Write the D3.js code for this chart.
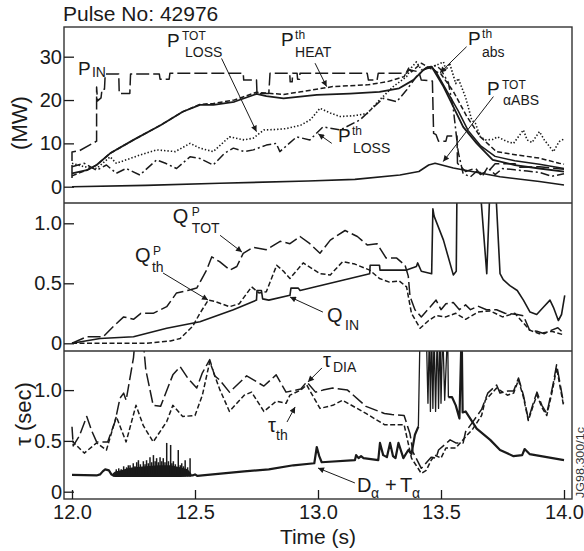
<!DOCTYPE html>
<html><head><meta charset="utf-8">
<script src="https://cdn.jsdelivr.net/npm/d3@7"></script>
<style>body{margin:0;background:#fff}</style>
</head><body><svg id="c" width="584" height="551"></svg>
<script>
// ---------------- DATA ----------------
const xTicks = [12.0, 12.5, 13.0, 13.5, 14.0];
const topTicks = [0, 10, 20, 30];
const midTicks = [0, 0.5, 1.0];
const botTicks = [0, 0.5, 1.0];

// Top panel (MW)
const pIn = [[12.0,2.0],[12.0,8.0],[12.03,8.3],[12.1,10.5],[12.1,23.0],[12.104,19.8],[12.118,20.5],[12.122,22.5],[12.132,22.5],[12.135,26.0],[12.19,26.0],[12.192,21.5],[12.235,21.5],[12.238,26.0],[12.355,26.0],[12.358,24.8],[12.395,24.8],[12.398,26.2],[12.696,26.2],[12.698,24.6],[12.75,24.6],[12.752,21.5],[12.80,21.5],[12.805,26.2],[12.885,26.2],[12.887,24.2],[12.895,24.2],[12.897,26.2],[12.915,26.2],[12.917,24.8],[12.925,24.8],[12.927,26.2],[13.2,26.2],[13.205,24.6],[13.24,24.6],[13.245,26.2],[13.36,26.2],[13.37,27.0],[13.41,26.5],[13.42,24.6],[13.465,24.4],[13.47,12.3],[13.48,12.0],[13.49,10.5],[13.52,10.5],[13.525,11.7],[13.565,11.7],[13.567,5.4],[13.6,3.5],[13.64,4.3],[13.66,2.8],[13.7,4.0],[13.72,5.3],[13.8,5.3],[13.82,4.5],[13.9,4.6],[13.95,4.3],[14.0,4.0]];
const pHeat = [[12.0,2.5],[12.03,3.2],[12.06,3.8],[12.1,5.0],[12.155,7.7],[12.25,10.8],[12.36,14.2],[12.45,17.3],[12.52,19.0],[12.575,19.2],[12.66,20.0],[12.75,21.8],[12.79,21.6],[12.86,21.3],[12.93,21.9],[13.06,23.1],[13.2,23.5],[13.28,24.2],[13.35,25.4],[13.37,27.5],[13.38,26.5],[13.40,27.5],[13.42,28.5],[13.46,27.2],[13.5,26.0],[13.55,22.0],[13.605,16.2],[13.66,11.5],[13.725,8.1],[13.81,7.3],[13.9,6.6],[13.98,5.4],[14.0,5.2]];
const pAbs = [[12.0,3.1],[12.06,3.8],[12.1,5.0],[12.155,7.7],[12.25,10.8],[12.36,14.2],[12.45,17.3],[12.52,18.9],[12.575,18.9],[12.66,19.6],[12.75,21.4],[12.79,20.9],[12.86,20.4],[12.995,21.2],[13.13,21.5],[13.25,21.9],[13.33,22.7],[13.387,24.6],[13.43,27.0],[13.462,27.7],[13.51,23.1],[13.55,18.5],[13.59,13.8],[13.645,10.0],[13.71,6.2],[13.8,5.0],[13.9,4.2],[14.0,3.5]];
const pAbs2 = [[13.462,27.7],[13.48,26.5],[13.53,21.5],[13.57,17.5],[13.61,13.0],[13.66,9.5],[13.72,7.0],[13.8,6.0],[13.9,5.2],[14.0,4.2]];
const pLossTot = [[12.0,5.4],[12.05,4.6],[12.1,4.2],[12.155,6.9],[12.18,5.4],[12.2,5.8],[12.276,7.3],[12.344,8.5],[12.42,8.1],[12.48,10.0],[12.52,8.9],[12.574,8.1],[12.64,11.5],[12.7,10.8],[12.737,11.2],[12.78,13.1],[12.83,13.2],[12.87,13.4],[12.93,14.2],[12.97,15.5],[13.008,18.1],[13.05,17.0],[13.09,16.2],[13.15,16.4],[13.2,16.9],[13.25,20.0],[13.306,23.1],[13.36,25.4],[13.38,27.5],[13.40,28.8],[13.42,27.0],[13.46,27.5],[13.51,28.8],[13.52,26.9],[13.535,28.5],[13.56,23.8],[13.57,25.0],[13.6,20.6],[13.625,15.4],[13.64,14.6],[13.66,11.5],[13.68,10.8],[13.71,10.9],[13.73,11.5],[13.765,10.5],[13.795,10.0],[13.835,13.1],[13.85,10.8],[13.87,10.2],[13.9,12.7],[13.92,10.8],[13.957,8.1],[13.98,10.4],[14.0,11.0]];
const pLossTh = [[12.0,4.6],[12.05,5.4],[12.1,3.8],[12.14,5.0],[12.18,3.1],[12.22,4.2],[12.276,2.7],[12.344,6.2],[12.38,5.4],[12.425,4.2],[12.48,6.9],[12.52,6.5],[12.574,5.0],[12.62,7.7],[12.656,8.9],[12.7,8.1],[12.737,8.5],[12.79,9.6],[12.83,10.0],[12.845,8.1],[12.913,11.5],[12.967,10.8],[13.02,13.8],[13.09,13.1],[13.17,15.4],[13.265,20.4],[13.32,19.6],[13.36,22.3],[13.4,25.4],[13.44,27.5],[13.48,28.0],[13.5,27.0],[13.53,24.0],[13.55,18.0],[13.57,8.0],[13.59,3.0],[13.62,2.3],[13.65,3.8],[13.67,2.6],[13.69,4.5],[13.72,2.8],[13.75,4.2],[13.8,3.9],[13.85,3.6],[13.9,3.3],[13.95,2.4],[14.0,3.0]];
const pAlpha = [[12.0,0.0],[12.3,0.3],[12.6,0.8],[12.96,1.3],[13.15,1.7],[13.333,2.7],[13.41,3.5],[13.45,5.0],[13.476,5.4],[13.55,4.3],[13.74,2.3],[13.9,1.2],[14.0,0.4]];

// Middle panel (Q)
const qTot = [[12.0,0.0],[12.06,0.055],[12.127,0.055],[12.168,0.14],[12.21,0.22],[12.25,0.2],[12.28,0.25],[12.33,0.25],[12.385,0.305],[12.425,0.42],[12.47,0.44],[12.507,0.46],[12.547,0.61],[12.568,0.72],[12.6,0.68],[12.642,0.61],[12.67,0.64],[12.696,0.75],[12.737,0.8],[12.79,0.78],[12.846,0.85],[12.886,0.83],[12.927,0.89],[12.967,0.83],[13.008,0.75],[13.05,0.86],[13.11,0.94],[13.16,0.89],[13.2,0.82],[13.24,0.83],[13.277,0.71],[13.32,0.71],[13.354,0.65],[13.367,0.56],[13.374,0.39],[13.394,0.28],[13.42,0.22],[13.455,0.3],[13.48,0.36],[13.5,0.28],[13.52,0.33],[13.55,0.34],[13.575,0.28],[13.6,0.32],[13.62,0.28],[13.65,0.31],[13.685,0.28],[13.726,0.28],[13.76,0.25],[13.81,0.24],[13.835,0.23],[13.86,0.11],[13.89,0.1],[13.92,0.08],[13.95,0.11],[13.975,0.13],[14.0,0.08]];
const qTh = [[12.0,0.0],[12.3,0.0],[12.4,0.02],[12.44,0.04],[12.49,0.14],[12.52,0.25],[12.554,0.36],[12.58,0.35],[12.64,0.305],[12.68,0.33],[12.73,0.47],[12.76,0.42],[12.79,0.43],[12.832,0.65],[12.86,0.6],[12.886,0.54],[12.94,0.67],[13.008,0.58],[13.05,0.57],[13.1,0.68],[13.15,0.66],[13.21,0.61],[13.25,0.54],[13.29,0.51],[13.33,0.52],[13.36,0.47],[13.38,0.25],[13.415,0.125],[13.45,0.19],[13.48,0.23],[13.52,0.22],[13.56,0.25],[13.6,0.2],[13.65,0.26],[13.7,0.27],[13.75,0.22],[13.8,0.25],[13.835,0.17],[13.86,0.11],[13.9,0.08],[13.95,0.1],[14.0,0.07]];
const qIn = [[12.0,0.0],[12.114,0.04],[12.25,0.055],[12.385,0.125],[12.52,0.18],[12.656,0.28],[12.75,0.36],[12.752,0.44],[12.77,0.44],[12.775,0.37],[12.80,0.36],[12.886,0.40],[12.89,0.46],[12.92,0.46],[12.927,0.44],[13.21,0.58],[13.212,0.65],[13.25,0.65],[13.252,0.61],[13.36,0.61],[13.40,0.64],[13.405,0.67],[13.42,0.6],[13.462,0.58],[13.467,1.12],[13.472,1.06],[13.51,0.86],[13.55,0.57],[13.562,0.6],[13.565,1.3],[13.659,1.3],[13.686,0.58],[13.699,1.3],[13.722,1.3],[13.74,0.58],[13.753,0.53],[13.78,0.48],[13.81,0.44],[13.835,0.36],[13.862,0.26],[13.889,0.24],[13.916,0.3],[13.943,0.36],[13.957,0.3],[13.977,0.19],[13.99,0.24],[14.003,0.4]];

// Bottom panel (tau, sec)
const tauDia = [[12.0,0.64],[12.005,0.45],[12.03,0.55],[12.06,0.74],[12.08,0.6],[12.1,0.49],[12.145,0.49],[12.175,0.69],[12.195,0.92],[12.21,0.97],[12.22,0.9],[12.25,1.32],[12.26,1.6],[12.285,1.6],[12.3,1.2],[12.33,0.85],[12.36,0.84],[12.41,1.15],[12.44,1.23],[12.47,1.12],[12.507,1.02],[12.53,1.17],[12.56,1.30],[12.58,1.14],[12.6,1.1],[12.64,0.98],[12.71,1.14],[12.78,1.04],[12.83,1.15],[12.87,0.98],[12.93,1.01],[12.954,1.08],[12.99,0.98],[13.02,1.0],[13.06,1.02],[13.12,1.0],[13.195,0.84],[13.27,0.77],[13.30,0.76],[13.35,0.75],[13.374,0.57],[13.386,0.39],[13.42,0.23],[13.46,0.34],[13.48,0.33],[13.49,0.41],[13.537,0.51],[13.56,0.48],[13.59,0.48],[13.6,0.59],[13.63,0.69],[13.665,0.81],[13.69,0.97],[13.726,1.05],[13.74,0.97],[13.77,0.99],[13.795,0.99],[13.815,1.12],[13.835,0.95],[13.855,0.71],[13.875,0.87],[13.89,0.98],[13.91,0.85],[13.93,0.77],[13.955,1.05],[13.97,1.25],[13.985,1.05],[13.998,0.87]];
const tauTh = [[12.0,0.5],[12.05,0.38],[12.1,0.48],[12.14,0.41],[12.18,0.74],[12.22,0.49],[12.26,0.85],[12.29,0.65],[12.33,0.49],[12.385,0.69],[12.41,0.85],[12.45,0.74],[12.5,0.75],[12.53,0.95],[12.56,1.28],[12.6,1.01],[12.64,0.79],[12.7,0.95],[12.73,0.98],[12.78,0.79],[12.83,0.89],[12.87,0.87],[12.886,0.95],[12.93,1.0],[12.954,1.05],[13.008,0.82],[13.06,0.85],[13.1,0.9],[13.195,0.77],[13.27,0.66],[13.35,0.66],[13.38,0.33],[13.42,0.18],[13.44,0.21],[13.46,0.31],[13.475,0.36],[13.5,0.33],[13.52,0.43],[13.56,0.43],[13.6,0.54],[13.63,0.62],[13.665,0.75],[13.68,0.9],[13.726,1.02],[13.77,0.95],[13.795,0.97],[13.815,1.1],[13.835,0.93],[13.855,0.7],[13.875,0.85],[13.89,0.95],[13.91,0.83],[13.93,0.75],[13.955,1.02],[13.97,1.22],[13.985,1.02],[13.998,0.85]];
const dAlpha = [[12.0,0.165],[12.1,0.16],[12.114,0.17],[12.125,0.2],[12.135,0.22],[12.15,0.21],[12.16,0.17],[12.17,0.16],[12.49,0.16],[12.5,0.17],[12.51,0.155],[12.53,0.16],[12.7,0.2],[12.8,0.22],[12.9,0.26],[12.985,0.28],[12.995,0.44],[13.005,0.35],[13.015,0.29],[13.15,0.31],[13.155,0.36],[13.165,0.33],[13.175,0.35],[13.185,0.33],[13.245,0.31],[13.252,0.48],[13.265,0.36],[13.28,0.34],[13.293,0.48],[13.305,0.35],[13.315,0.33],[13.327,0.48],[13.347,0.33],[13.367,0.41],[13.38,0.37],[13.394,0.56],[13.408,0.64]];
const dAlphaSpiky = [[13.408,0.64],[13.415,1.6],[13.44,1.6],[13.447,0.87],[13.453,1.6],[13.457,0.79],[13.462,1.6],[13.467,0.82],[13.472,1.6],[13.478,0.79],[13.485,1.6],[13.49,0.82],[13.496,1.6],[13.5,0.87],[13.507,1.6],[13.515,0.9],[13.527,1.6],[13.53,0.93]];
const dAlphaTail = [[13.53,0.93],[13.545,0.93],[13.56,0.85],[13.575,0.72],[13.584,1.6],[13.588,0.78],[13.6,0.79],[13.645,0.62],[13.7,0.51],[13.74,0.41],[13.795,0.35],[13.83,0.36],[13.84,0.42],[13.86,0.37],[13.93,0.34],[14.0,0.31]];
const dBand = [[12.165,0.15,0.18],[12.175,0.145,0.2],[12.2,0.145,0.21],[12.225,0.145,0.23],[12.25,0.145,0.24],[12.3,0.145,0.25],[12.35,0.145,0.26],[12.4,0.145,0.26],[12.44,0.145,0.24],[12.47,0.15,0.22],[12.485,0.15,0.18]];
const dSpikes = [[12.18,0.22],[12.19,0.23],[12.2,0.22],[12.21,0.25],[12.222,0.24],[12.229,0.26],[12.236,0.26],[12.249,0.28],[12.256,0.25],[12.263,0.29],[12.27,0.31],[12.278,0.27],[12.29,0.30],[12.297,0.27],[12.303,0.31],[12.31,0.28],[12.317,0.34],[12.324,0.29],[12.331,0.36],[12.338,0.3],[12.344,0.33],[12.351,0.29],[12.358,0.34],[12.365,0.3],[12.371,0.33],[12.378,0.29],[12.385,0.48],[12.392,0.3],[12.401,0.46],[12.406,0.28],[12.412,0.30],[12.42,0.27],[12.432,0.41],[12.44,0.26],[12.446,0.28],[12.453,0.25],[12.46,0.31],[12.47,0.24],[12.48,0.33]];

// ---------------- LAYOUT ----------------
const FONT = '"Liberation Sans", Arial, Helvetica, sans-serif';
const INK = "#1a1a1a";
const svg = d3.select("#c").attr("font-family", FONT);
const L = 64, R = 572;
const panels = [{top:27,bottom:203},{top:203,bottom:351},{top:351,bottom:499}];
const x = d3.scaleLinear().domain([12,14]).range([72,564]);
const yTop = d3.scaleLinear().domain([0,30]).range([186.7,56.7]);
const yMid = d3.scaleLinear().domain([0,1]).range([343.3,223.3]);
const yBot = d3.scaleLinear().domain([0,1]).range([491.7,390.1]);
const ys = [yTop, yMid, yBot];

const defs = svg.append("defs");
panels.forEach((p,i)=>{
  defs.append("clipPath").attr("id","clip"+i).append("rect")
    .attr("x",L).attr("y",p.top).attr("width",R-L).attr("height",p.bottom-p.top);
});
defs.append("marker").attr("id","arr").attr("viewBox","0 0 10 10").attr("refX",10).attr("refY",5)
  .attr("markerWidth",8).attr("markerHeight",6).attr("markerUnits","userSpaceOnUse").attr("orient","auto")
  .append("path").attr("d","M0,0L10,5L0,10z").attr("fill",INK);

function drawLine(i, data, dash, w){
  const line = d3.line().x(d=>x(d[0])).y(d=>ys[i](d[1]));
  svg.append("path").datum(data).attr("clip-path",`url(#clip${i})`)
    .attr("d",line).attr("fill","none").attr("stroke",INK)
    .attr("stroke-width",w).attr("stroke-dasharray",dash||null)
    .attr("stroke-linejoin","round");
}

const LONG="13,4", SHORT="5,2.5", DOT="1.4,2", DASHDOT="9,3,2,3";
// top
drawLine(0,pAlpha,null,1.6);
drawLine(0,pLossTh,DASHDOT,1.5);
drawLine(0,pLossTot,DOT,1.6);
drawLine(0,pIn,LONG,1.5);
drawLine(0,pHeat,SHORT,1.5);
drawLine(0,pAbs2,null,1.5);
drawLine(0,pAbs,null,1.8);
// middle
drawLine(1,qTot,LONG,1.5);
drawLine(1,qTh,SHORT,1.5);
drawLine(1,qIn,null,1.6);
// bottom
drawLine(2,tauDia,LONG,1.5);
drawLine(2,tauTh,SHORT,1.5);
svg.append("path").datum(dBand).attr("clip-path","url(#clip2)")
  .attr("d",d3.area().x(d=>x(d[0])).y0(d=>yBot(d[1])).y1(d=>yBot(d[2])))
  .attr("fill",INK);
svg.append("g").attr("clip-path","url(#clip2)").selectAll("line").data(dSpikes).join("line")
  .attr("x1",d=>x(d[0])).attr("x2",d=>x(d[0]))
  .attr("y1",yBot(0.15)).attr("y2",d=>yBot(d[1]))
  .attr("stroke",INK).attr("stroke-width",1.5);
drawLine(2,dAlpha,null,2.2);
drawLine(2,dAlphaSpiky,null,1.3);
drawLine(2,dAlphaTail,null,2.2);

// frame
svg.append("rect").attr("x",L).attr("y",panels[0].top).attr("width",R-L)
  .attr("height",panels[2].bottom-panels[0].top).attr("fill","none").attr("stroke","#333").attr("stroke-width",1.4);
[panels[0].bottom, panels[1].bottom].forEach(yv=>{
  svg.append("line").attr("x1",L).attr("x2",R).attr("y1",yv).attr("y2",yv).attr("stroke","#333").attr("stroke-width",1.4);
});

// axes
function yAxis(scale, ticks, fmt){
  const g = svg.append("g").attr("transform",`translate(${L},0)`)
    .call(d3.axisLeft(scale).tickValues(ticks).tickSize(-10).tickPadding(2).tickFormat(fmt));
  g.attr("font-size",20).attr("font-family",FONT);
  g.select(".domain").remove();
  g.selectAll(".tick text").attr("fill",INK);
  g.selectAll(".tick line").attr("stroke",INK).attr("stroke-width",1.3);
}
const fmtQ = v => v===0 ? "0" : d3.format(".1f")(v);
yAxis(yTop, topTicks, d3.format("d"));
yAxis(yMid, midTicks, fmtQ);
yAxis(yBot, botTicks, fmtQ);
const gx = svg.append("g").attr("transform",`translate(0,${panels[2].bottom})`)
  .call(d3.axisBottom(x).tickValues(xTicks).tickSize(-9).tickPadding(6).tickFormat(d3.format(".1f")));
gx.attr("font-size",20).attr("font-family",FONT);
gx.select(".domain").remove();
gx.selectAll(".tick text").attr("fill",INK);
gx.selectAll(".tick line").attr("stroke",INK).attr("stroke-width",1.3);

// titles
svg.append("text").attr("x",63).attr("y",21).attr("font-size",21).attr("fill",INK).text("Pulse No: 42976");
svg.append("text").attr("transform","translate(27,123) rotate(-90)").attr("text-anchor","middle")
  .attr("font-size",22).attr("fill",INK).text("(MW)");
svg.append("text").attr("transform","translate(31,414) rotate(-90)").attr("text-anchor","middle")
  .attr("font-size",22).attr("fill",INK).text("τ (sec)");
svg.append("text").attr("x",318).attr("y",544).attr("text-anchor","middle")
  .attr("font-size",21).attr("fill",INK).text("Time (s)");
svg.append("text").attr("transform","translate(583.5,462.5) rotate(-90)").attr("text-anchor","middle")
  .attr("font-size",11).attr("textLength",71).attr("lengthAdjust","spacingAndGlyphs")
  .attr("fill","#333").text("JG98.300/1c");

// annotation labels: anchor in data units, runs offset in px
const labels = [
  {p:0,t:12.024,v:25.8,runs:[["P",19,0,0],["IN",14,14,2]]},
  {p:0,t:12.386,v:32.2,runs:[["P",19,0,0],["TOT",12,15,-7],["LOSS",14,18,10]]},
  {p:0,t:12.85,v:32.5,runs:[["P",19,0,0],["th",12,14,-7],["HEAT",14,14,11]]},
  {p:0,t:13.081,v:10.3,runs:[["P",19,0,0],["th",12,14,-7],["LOSS",14,15,11]]},
  {p:0,t:13.61,v:32.7,runs:[["P",19,0,0],["th",12,14,-7],["abs",14,14,12]]},
  {p:0,t:13.687,v:21.15,runs:[["P",19,0,0],["TOT",12,15,-6],["αABS",14,16,10]]},
  {p:1,t:12.41,v:1.0,runs:[["Q",20,0,0],["P",12,19,-7],["TOT",14,19,10]]},
  {p:1,t:12.256,v:0.676,runs:[["Q",20,0,0],["P",12,18,-7],["th",14,17,10]]},
  {p:1,t:13.037,v:0.178,runs:[["Q",20,0,0],["IN",14,18,8]]},
  {p:2,t:13.02,v:1.227,runs:[["τ",20,0,0],["DIA",14,10,5]]},
  {p:2,t:12.797,v:0.588,runs:[["τ",20,0,0],["th",14,8,8]]},
  {p:2,t:13.159,v:0.0,runs:[["D",20,0,0],["α",14,14,6],["+",20,28,0],["T",20,43,0],["α",14,55,6]]}
];
labels.forEach(l=>{
  const ax = x(l.t), ay = ys[l.p](l.v);
  l.runs.forEach(r=>{
    svg.append("text").attr("x",ax+r[2]).attr("y",ay+r[3]).attr("font-size",r[1]).attr("fill",INK).text(r[0]);
  });
});

// arrows: [panel, t0, v0, t1, v1]
const arrows = [
  [0,12.608,29.6,12.75,12.7],
  [0,12.988,28.5,13.035,23.1],
  [0,13.056,10.0,13.001,12.2],
  [0,13.604,32.3,13.496,26.3],
  [0,13.713,20.8,13.509,5.8],
  [1,12.602,0.9,12.691,0.76],
  [1,12.37,0.586,12.553,0.36],
  [1,13.02,0.26,12.886,0.386],
  [2,13.016,1.218,12.959,1.08],
  [2,12.874,0.686,12.907,0.834],
  [2,13.15,0.086,13.0,0.233]
];
arrows.forEach(a=>{
  svg.append("line").attr("x1",x(a[1])).attr("y1",ys[a[0]](a[2]))
    .attr("x2",x(a[3])).attr("y2",ys[a[0]](a[4]))
    .attr("stroke",INK).attr("stroke-width",1).attr("marker-end","url(#arr)");
});
</script>
</body></html>
